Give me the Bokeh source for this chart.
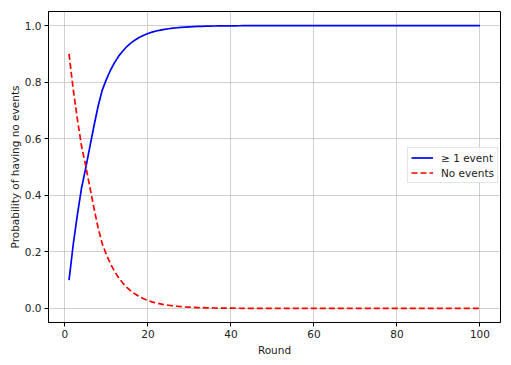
from bokeh.plotting import figure
from bokeh.models import ColumnDataSource, FixedTicker, PrintfTickFormatter, Range1d, Legend, LegendItem
from bokeh.embed import file_html
from bokeh.resources import INLINE

rounds = list(range(1, 101))

no_events = [
    0.900, 0.775, 0.670, 0.575, 0.505, 0.430, 0.355, 0.285, 0.228, 0.190,
    0.157, 0.130, 0.107, 0.089, 0.073, 0.060, 0.050, 0.041, 0.034, 0.028,
    0.023, 0.019, 0.016, 0.013, 0.011, 0.009, 0.0075, 0.006, 0.005, 0.0042,
    0.0035, 0.0029, 0.0024, 0.0020, 0.0016, 0.0013, 0.0011, 0.0009, 0.0008, 0.0006,
    0.0005, 0.0004, 0.0003, 0.0003, 0.0002, 0.0002, 0.0001, 0.0001, 0.0001, 0.0001,
    0.0, 0.0, 0.0, 0.0, 0.0, 0.0, 0.0, 0.0, 0.0, 0.0,
    0.0, 0.0, 0.0, 0.0, 0.0, 0.0, 0.0, 0.0, 0.0, 0.0,
    0.0, 0.0, 0.0, 0.0, 0.0, 0.0, 0.0, 0.0, 0.0, 0.0,
    0.0, 0.0, 0.0, 0.0, 0.0, 0.0, 0.0, 0.0, 0.0, 0.0,
    0.0, 0.0, 0.0, 0.0, 0.0, 0.0, 0.0, 0.0, 0.0, 0.0,
]

at_least_one = [
    0.100, 0.225, 0.330, 0.425, 0.495, 0.570, 0.645, 0.715, 0.772, 0.810,
    0.843, 0.870, 0.893, 0.911, 0.927, 0.940, 0.950, 0.959, 0.966, 0.972,
    0.977, 0.981, 0.984, 0.987, 0.989, 0.991, 0.9925, 0.994, 0.995, 0.9958,
    0.9965, 0.9971, 0.9976, 0.9980, 0.9984, 0.9987, 0.9989, 0.9991, 0.9992, 0.9994,
    0.9995, 0.9996, 0.9997, 0.9997, 0.9998, 0.9998, 0.9999, 0.9999, 0.9999, 0.9999,
    1.0, 1.0, 1.0, 1.0, 1.0, 1.0, 1.0, 1.0, 1.0, 1.0,
    1.0, 1.0, 1.0, 1.0, 1.0, 1.0, 1.0, 1.0, 1.0, 1.0,
    1.0, 1.0, 1.0, 1.0, 1.0, 1.0, 1.0, 1.0, 1.0, 1.0,
    1.0, 1.0, 1.0, 1.0, 1.0, 1.0, 1.0, 1.0, 1.0, 1.0,
    1.0, 1.0, 1.0, 1.0, 1.0, 1.0, 1.0, 1.0, 1.0, 1.0,
]

x_ticks = [0, 20, 40, 60, 80, 100]
y_ticks = [0.0, 0.2, 0.4, 0.6, 0.8, 1.0]
series_labels = ["\u2265 1 event", "No events"]
x_label = "Round"
y_label = "Probability of having no events"

FONT = "DejaVu Sans"

src = ColumnDataSource(dict(x=rounds, a=at_least_one, n=no_events))

p = figure(width=506, height=360, output_backend="svg", toolbar_location=None,
           x_range=Range1d(-3.95, 104.95), y_range=Range1d(-0.05, 1.05),
           min_border_left=48, min_border_right=6, min_border_top=11, min_border_bottom=38)

r1 = p.line("x", "a", source=src, line_color="#0000ff", line_width=1.7)
r2 = p.line("x", "n", source=src, line_color="#ff0000", line_width=1.7, line_dash="6 3")

p.outline_line_color = "black"
p.outline_line_width = 1
p.outline_line_alpha = 1

for ax in (p.xaxis[0], p.yaxis[0]):
    ax.axis_line_color = "black"
    ax.axis_line_width = 1
    ax.major_tick_line_color = "black"
    ax.major_tick_out = 4
    ax.major_tick_in = 0
    ax.minor_tick_line_color = None
    ax.major_label_text_font = FONT
    ax.major_label_text_font_size = "10.5px"
    ax.major_label_text_color = "#222222"
    ax.axis_label_text_font = FONT
    ax.axis_label_text_font_size = "10.5px"
    ax.axis_label_text_font_style = "normal"
    ax.axis_label_text_color = "#222222"
    ax.major_label_standoff = 3

p.xaxis[0].ticker = FixedTicker(ticks=x_ticks)
p.yaxis[0].ticker = FixedTicker(ticks=y_ticks)
p.yaxis[0].formatter = PrintfTickFormatter(format="%.1f")
p.xaxis[0].axis_label = x_label
p.yaxis[0].axis_label = y_label
p.xaxis[0].axis_label_standoff = 3
p.yaxis[0].axis_label_standoff = 1

p.xgrid.ticker = FixedTicker(ticks=x_ticks)
p.ygrid.ticker = FixedTicker(ticks=y_ticks)
p.grid.grid_line_color = "#b0b0b0"
p.grid.grid_line_alpha = 0.6
p.grid.grid_line_width = 1

legend = Legend(items=[LegendItem(label=series_labels[0], renderers=[r1]),
                       LegendItem(label=series_labels[1], renderers=[r2])],
                location=(359, 139))
legend.label_text_font = FONT
legend.label_text_font_size = "10.5px"
legend.label_text_color = "#222222"
legend.glyph_width = 22
legend.glyph_height = 13
legend.label_height = 13
legend.label_standoff = 8
legend.padding = 3
legend.spacing = 2
legend.margin = 0
legend.border_line_color = "#cccccc"
legend.border_line_width = 1
legend.background_fill_alpha = 0.8
p.add_layout(legend, "center")

open("out.html", "w").write(file_html(p, INLINE))
